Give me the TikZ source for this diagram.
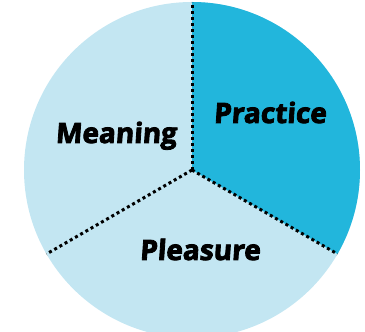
\documentclass[tikz,border=0pt]{standalone}
\usepackage{fontspec}
\setmainfont{Open Sans}
\newfontfamily\lblfont{Open Sans}[BoldFeatures={FakeSlant=0.07, FakeBold=3}]
\usetikzlibrary{calc}
\definecolor{darkblue}{RGB}{34,182,220}
\definecolor{lightblue}{RGB}{195,230,242}
\tikzset{
    slice/.style={draw=none},
    sep/.style={draw=black, line width=3pt, dash pattern=on 3pt off 3pt},
    lbl/.style={anchor=base, font=\lblfont\fontsize{28}{28}\selectfont\bfseries, inner sep=0pt}
}

\begin{document}
\begin{tikzpicture}[x=1pt, y=1pt]
        \useasboundingbox (0,0) rectangle (365,332);
        \coordinate (c) at (192,162);
        \coordinate (top) at ($(c)+(90:168)$);
        \coordinate (rimR) at ($(c)+(-30:168)$);
        \coordinate (rimL) at ($(c)+(210:168)$);

        \fill[lightblue, slice] (c) circle (168);
        \fill[darkblue, slice] (c) -- (top) arc (90:-30:168) -- cycle;

        \draw[sep] (c) -- (top);
        \draw[sep] (c) -- (rimR);
        \draw[sep] (c) -- (rimL);

        \node[lbl] (practice) at (270,209) {Practice};
        \node[lbl] (meaning) at (116,189) {Meaning};
        \node[lbl] (pleasure) at (200,72) {Pleasure};
      \end{tikzpicture}
\end{document}
